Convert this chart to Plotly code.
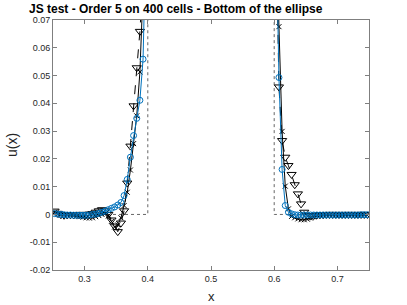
import plotly.graph_objects as go

# ---- data ----
x_left = [0.2525, 0.2575, 0.2625, 0.2675, 0.2725, 0.2775, 0.2825, 0.2875, 0.2925, 0.2975,
          0.3025, 0.3075, 0.3125, 0.3175, 0.3225, 0.3275, 0.3325, 0.3375, 0.3425, 0.3475,
          0.3525, 0.3575, 0.3625, 0.3675, 0.3725, 0.3775, 0.3825, 0.3875, 0.3925, 0.3975]
x_right = [0.6025, 0.6075, 0.6125, 0.6175, 0.6225, 0.6275, 0.6325, 0.6375, 0.6425, 0.6475,
           0.6525, 0.6575, 0.6625, 0.6675, 0.6725, 0.6775, 0.6825, 0.6875, 0.6925, 0.6975,
           0.7025, 0.7075, 0.7125, 0.7175, 0.7225, 0.7275, 0.7325, 0.7375, 0.7425, 0.7475]

circ_left = [0.0003, 0.0001, 0.0, -0.0001, -0.0002, -0.0002, -0.0003, -0.0003, -0.0003, -0.0003,
             -0.0003, -0.0002, 0.0, 0.0001, 0.0004, 0.0008, 0.0012, 0.0017, 0.0022, 0.0027,
             0.0034, 0.0043, 0.0068, 0.0126, 0.0206, 0.0284, 0.0346, 0.0411, 0.0559, 0.105]
circ_right = [0.11, 0.0493, 0.0162, 0.0032, 0.0008, 0.0002, -0.0001, -0.0002, -0.0002, -0.0002,
              -0.0002, -0.0002, -0.0002, -0.0002, -0.0002, -0.0002, -0.0002, -0.0002, -0.0002, -0.0002,
              -0.0002, -0.0002, -0.0002, -0.0002, -0.0002, -0.0002, -0.0002, -0.0001, -0.0001, -0.0001]

xm_left = [0.0008, 0.0002, -0.0002, -0.0003, -0.0003, -0.0004, -0.0005, -0.0006, -0.0008, -0.001,
           -0.0012, -0.0013, -0.0012, -0.0008, -0.0004, 0.0, 0.0003, -0.0005, -0.0025, -0.0045,
           -0.0038, -0.0012, 0.0032, 0.008, 0.016, 0.0255, 0.0355, 0.0513, 0.075, 0.11]
xm_right = [0.12, 0.0676, 0.0299, 0.0102, 0.002, -0.0007, -0.0012, -0.0016, -0.0019, -0.0019,
            -0.0017, -0.0013, -0.0009, -0.0006, -0.0004, -0.0003, -0.0003, -0.0003, -0.0003, -0.0003,
            -0.0003, -0.0003, -0.0003, -0.0003, -0.0003, -0.0003, -0.0003, -0.0003, -0.0003, -0.0003]

tri_left = [0.0012, 0.0004, -0.0001, -0.0003, -0.0002, -0.0001, -0.0001, 0.0, 0.0, 0.0,
            0.0, 0.0001, 0.0003, 0.0008, 0.0013, 0.0017, 0.0013, 0.0, -0.002, -0.0042,
            -0.0062, -0.0031, 0.0013, 0.0113, 0.0246, 0.0391, 0.0528, 0.0659, 0.085, 0.11]
tri_right = [0.11, 0.0459, 0.0266, 0.0206, 0.0176, 0.0144, 0.0107, 0.0074, 0.0038, 0.0008,
             -0.0004, -0.0006, -0.0004, -0.0002, -0.0001, -0.0001, 0.0, 0.0, 0.0, 0.0,
             0.0, 0.0, 0.0, 0.0, 0.0, 0.0, 0.0, 0.0, 0.0, 0.0]

exact_x = [0.25, 0.4, 0.4, 0.6, 0.6, 0.75]
exact_y = [0.0, 0.0, 0.2, 0.2, 0.0, 0.0]

x_ticks = [0.3, 0.4, 0.5, 0.6, 0.7]
x_ticktext = ["0.3", "0.4", "0.5", "0.6", "0.7"]
y_ticks = [-0.02, -0.01, 0.0, 0.01, 0.02, 0.03, 0.04, 0.05, 0.06, 0.07]
y_ticktext = ["-0.02", "-0.01", "0", "0.01", "0.02", "0.03", "0.04", "0.05", "0.06", "0.07"]

xs = x_left + [None] + x_right
BLUE = "#0072BD"

fig = go.Figure()
fig.add_trace(go.Scatter(x=exact_x, y=exact_y, mode="lines",
                         line=dict(color="#666666", width=1, dash="dot"), showlegend=False))
fig.add_trace(go.Scatter(x=xs, y=tri_left + [None] + tri_right, mode="lines+markers",
                         line=dict(color="black", width=1, dash="dash"),
                         marker=dict(symbol="triangle-down-open", size=8, color="black",
                                     line=dict(width=1)), showlegend=False))
fig.add_trace(go.Scatter(x=xs, y=xm_left + [None] + xm_right, mode="lines+markers",
                         line=dict(color="black", width=1),
                         marker=dict(symbol="x-thin-open", size=5, color="black",
                                     line=dict(width=1, color="black")), showlegend=False))
fig.add_trace(go.Scatter(x=xs, y=circ_left + [None] + circ_right, mode="lines+markers",
                         line=dict(color=BLUE, width=1),
                         marker=dict(symbol="circle-open", size=6, color=BLUE,
                                     line=dict(width=1)), showlegend=False))

axis_common = dict(showline=True, linecolor="#7f7f7f", linewidth=1, mirror="ticks",
                   ticks="inside", ticklen=4, tickcolor="#7f7f7f", showgrid=False,
                   zeroline=False, tickfont=dict(family="Liberation Sans", size=9, color="#262626"))

fig.update_xaxes(range=[0.25, 0.75], tickvals=x_ticks, ticktext=x_ticktext, **axis_common)
fig.update_yaxes(range=[-0.02, 0.07], tickvals=y_ticks, ticktext=y_ticktext, **axis_common)

fig.update_layout(
    width=407, height=305,
    margin=dict(l=53, r=38, t=20, b=35, pad=0),
    plot_bgcolor="white", paper_bgcolor="white",
    annotations=[
        dict(text="<b>JS test - Order 5 on 400 cells - Bottom of the ellipse</b>",
             xref="paper", yref="paper", x=(27 - 53) / 316, y=1 + 11 / 250,
             xanchor="left", yanchor="middle", showarrow=False,
             font=dict(family="Liberation Sans", size=12, color="black")),
        dict(text="x", xref="paper", yref="paper", x=0.5, y=-0.105, yanchor="middle",
             showarrow=False, font=dict(family="Liberation Sans", size=13, color="#262626")),
        dict(text="u(x)", xref="paper", yref="paper", x=-0.13, y=0.5, xanchor="center",
             textangle=-90, showarrow=False,
             font=dict(family="Liberation Sans", size=14, color="#262626")),
    ],
)

fig.write_html("out.html", config={"displayModeBar": False},
               post_script="document.body.style.margin='0';document.body.style.overflow='hidden';")
